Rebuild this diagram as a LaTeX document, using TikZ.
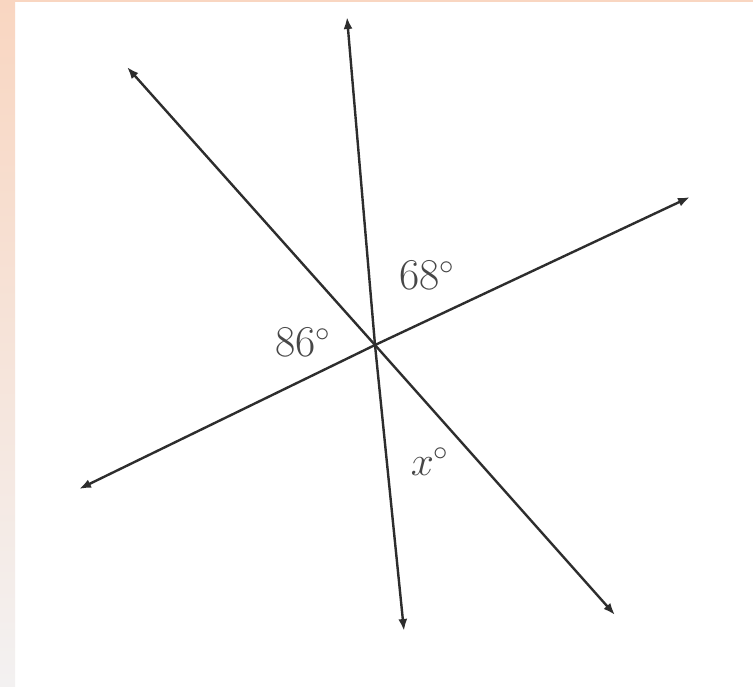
\documentclass[tikz,border=0pt]{standalone}
\usepackage{tikz}
\usetikzlibrary{arrows.meta,calc}
\definecolor{peach}{RGB}{249,214,193}
\definecolor{paleedge}{RGB}{243,241,241}
\definecolor{linegray}{RGB}{45,45,45}

\begin{document}
\begin{tikzpicture}[
    x=0.5pt, y=-0.5pt,
    font=\fontsize{22}{26}\selectfont,
    ray/.style={{Latex[length=6pt,width=4.5pt]}-{Latex[length=6pt,width=4.5pt]}, line width=1.2pt, color=linegray},
    ang/.style={color=black!72, inner sep=0pt}
]

% Frame
\useasboundingbox (0,0) rectangle (753,686);
\fill[white] (0,0) rectangle (753,686);
\shade[top color=peach, bottom color=paleedge] (0,0) rectangle (15,686);
\fill[peach] (15,0) rectangle (753,2);

% Intersection and ends
\coordinate (O) at (375,345);
\coordinate (vTop) at (347,17);
\coordinate (vBot) at (404,631);
\coordinate (dTop) at (127,67);
\coordinate (dBot) at (615,615);
\coordinate (rTop) at (690,197);
\coordinate (rBot) at (79,489);

% Lines
\draw[ray] (vTop) -- (O) -- (vBot);
\draw[ray] (dTop) -- (O) -- (dBot);
\draw[ray] (rBot) -- (O) -- (rTop);

% Angles
\node[ang] (a68) at (427,275) {68$^\circ$};
\node[ang] (a86) at (303,342) {86$^\circ$};
\node[ang] (ax) at (430,462) {$x^\circ$};

\end{tikzpicture}
\end{document}
